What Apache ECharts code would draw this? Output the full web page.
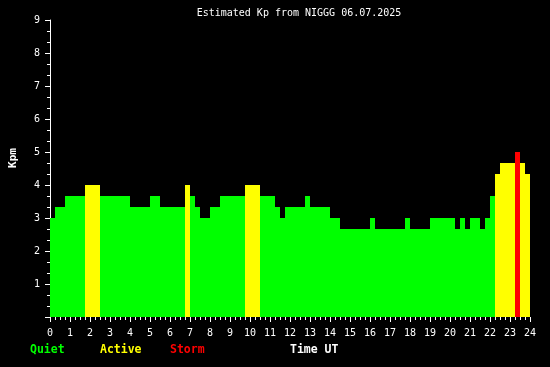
<!DOCTYPE html>
<html><head><meta charset="utf-8">
<script src="https://cdn.jsdelivr.net/npm/echarts@6/dist/echarts.min.js"></script>
<style>html,body{margin:0;padding:0;background:#000}#c{width:550px;height:367px}</style>
</head><body><div id="c"></div>
<script>
const chartTitle = "Estimated Kp from NIGGG 06.07.2025";
const yAxisName = "Kpm";
const xAxisName = "Time UT";
const legendLabels = ["Quiet", "Active", "Storm"];
const legendColors = ["#00ff00", "#ffff00", "#ff0000"];
const binHours = 0.25; // 15-minute bins
// Kp estimates, one per 15-minute bin, 00:00 .. 23:45 UT
const kpValues = [
  3.00, 3.33, 3.33, 3.67, 3.67, 3.67, 3.67, 4.00, 4.00, 4.00,
  3.67, 3.67, 3.67, 3.67, 3.67, 3.67, 3.33, 3.33, 3.33, 3.33,
  3.67, 3.67, 3.33, 3.33, 3.33, 3.33, 3.33, 4.00, 3.67, 3.33,
  3.00, 3.00, 3.33, 3.33, 3.67, 3.67, 3.67, 3.67, 3.67, 4.00,
  4.00, 4.00, 3.67, 3.67, 3.67, 3.33, 3.00, 3.33, 3.33, 3.33,
  3.33, 3.67, 3.33, 3.33, 3.33, 3.33, 3.00, 3.00, 2.67, 2.67,
  2.67, 2.67, 2.67, 2.67, 3.00, 2.67, 2.67, 2.67, 2.67, 2.67,
  2.67, 3.00, 2.67, 2.67, 2.67, 2.67, 3.00, 3.00, 3.00, 3.00,
  3.00, 2.67, 3.00, 2.67, 3.00, 3.00, 2.67, 3.00, 3.67, 4.33,
  4.67, 4.67, 4.67, 5.00, 4.67, 4.33
];
const FONT = "DejaVu Sans Mono";

function colorFor(v) { return v >= 5 ? legendColors[2] : (v >= 4 ? legendColors[1] : legendColors[0]); }

const data = kpValues.map((v, i) => [i * binHours, (i + 1) * binHours, v]);

const chart = echarts.init(document.getElementById('c'), null, {renderer: 'canvas'});
const option = {
  backgroundColor: '#000',
  animation: false,
  grid: {left: 50, right: 20, top: 20, bottom: 50},
  xAxis: {
    type: 'value', min: 0, max: 24, interval: 1,
    axisLine: {show: false},
    axisTick: {show: true, length: 5, lineStyle: {color: '#fff', width: 1}},
    minorTick: {show: true, splitNumber: 4, length: 3, lineStyle: {color: '#fff', width: 1}},
    splitLine: {show: false},
    axisLabel: {color: '#fff', fontFamily: FONT, fontSize: 10, margin: 11}
  },
  yAxis: {
    type: 'value', min: 0, max: 9, interval: 1,
    axisLine: {show: true, lineStyle: {color: '#fff', width: 1}},
    axisTick: {show: true, length: 5, lineStyle: {color: '#fff', width: 1}},
    minorTick: {show: true, splitNumber: 3, length: 3, lineStyle: {color: '#fff', width: 1}},
    splitLine: {show: false},
    axisLabel: {color: '#fff', fontFamily: FONT, fontSize: 10, margin: 10,
      formatter: v => (v === 0 ? '' : String(v))}
  },
  series: [{
    type: 'custom',
    renderItem: function (params, api) {
      const s = api.coord([api.value(0), api.value(2)]);
      const e = api.coord([api.value(1), 0]);
      const x0 = Math.round(s[0]), x1 = Math.round(e[0]);
      const y0 = Math.round(s[1]), y1 = Math.round(e[1]);
      return {type: 'rect', shape: {x: x0, y: y0, width: x1 - x0, height: y1 - y0},
        style: {fill: colorFor(api.value(2))}};
    },
    encode: {x: [0, 1], y: 2},
    data: data,
    z: 1
  }],
  graphic: [
    {type: 'text', x: 299, y: 13, style: {text: chartTitle, fill: '#fff', font: '10px "' + FONT + '"', textAlign: 'center', textVerticalAlign: 'middle'}},
    {type: 'text', x: 13, y: 158, rotation: Math.PI / 2, style: {text: yAxisName, fill: '#fff', font: 'bold 11px "' + FONT + '"', textAlign: 'center', textVerticalAlign: 'middle'}},
    {type: 'text', x: 30, y: 350, style: {text: legendLabels[0], fill: legendColors[0], font: 'bold 11.5px "' + FONT + '"', textAlign: 'left', textVerticalAlign: 'middle'}},
    {type: 'text', x: 100, y: 350, style: {text: legendLabels[1], fill: legendColors[1], font: 'bold 11.5px "' + FONT + '"', textAlign: 'left', textVerticalAlign: 'middle'}},
    {type: 'text', x: 170, y: 350, style: {text: legendLabels[2], fill: legendColors[2], font: 'bold 11.5px "' + FONT + '"', textAlign: 'left', textVerticalAlign: 'middle'}},
    {type: 'text', x: 290, y: 350, style: {text: xAxisName, fill: '#fff', font: 'bold 11.5px "' + FONT + '"', textAlign: 'left', textVerticalAlign: 'middle'}}
  ]
};
chart.setOption(option);
</script>
</body></html>
